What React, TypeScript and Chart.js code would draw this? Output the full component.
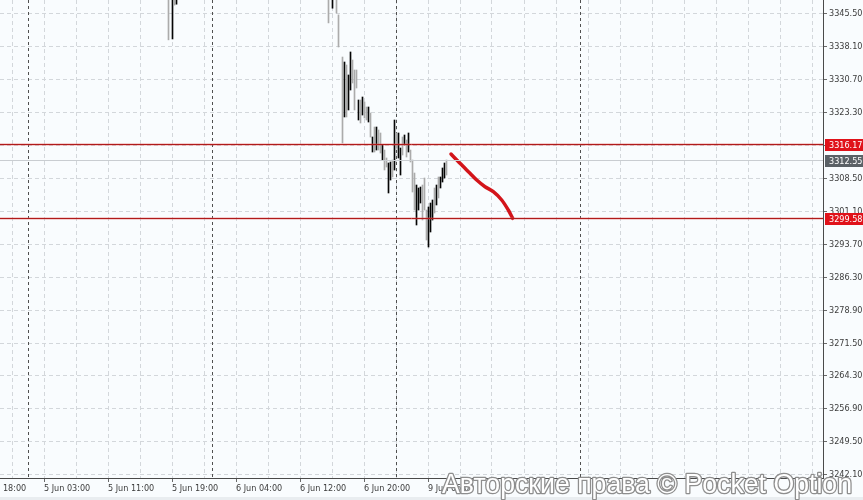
import React, { useEffect, useRef } from "react";
import { Chart, registerables } from "chart.js";

Chart.register(...registerables);

// ---------------- data ----------------
// bar slot index (15-minute bars), high, low and direction (1 = black bar, 0 = grey bar)
const barSlots = [
  84, 86, 87, 88,
  164, 166, 168, 169,
  171, 172, 173, 174, 175, 176, 177, 178, 179, 180,
  181, 182, 183, 184, 185, 186, 187, 188, 189, 190,
  191, 192, 193, 194, 195, 196, 197, 198, 199, 200,
  201, 202, 203, 204, 205, 206, 207, 208, 209, 210,
  211, 212, 213, 214, 215, 216, 217, 218, 219, 220,
  221, 222, 223,
];
const barHigh = [
  3350, 3350, 3350, 3350,
  3350, 3350, 3350, 3345.3,
  3335.85, 3334.73, 3334.06, 3331.82, 3336.98, 3335.18, 3332.94, 3332.94, 3326.21, 3326.21,
  3326.88, 3325.76, 3324.64, 3324.64, 3323.29, 3317.91, 3320.15, 3320.15, 3319.48, 3318.81,
  3316.11, 3314.99, 3313.2, 3312.08, 3312.3, 3312.75, 3321.72, 3318.81, 3318.81, 3315.44,
  3317.91, 3318.36, 3317.24, 3318.81, 3314.99, 3312.75, 3309.83, 3307.14, 3306.47, 3306.69,
  3307.14, 3308.71, 3301.53, 3302.21, 3303.1, 3303.78, 3306.47, 3307.14, 3308.94, 3308.94,
  3310.96, 3312.08, 3312.75,
];
const barLow = [
  3339.7, 3339.9, 3347.5, 3347.7,
  3343.5, 3346.8, 3345.7, 3338.1,
  3316.56, 3322.4, 3322.4, 3323.97, 3328.45, 3330.02, 3323.97, 3328.9, 3321.72, 3321.05,
  3322.84, 3322.17, 3321.72, 3321.27, 3317.91, 3314.54, 3314.54, 3314.99, 3314.99, 3314.32,
  3312.75, 3310.51, 3311.18, 3305.35, 3308.26, 3308.94, 3310.5, 3315.44, 3313.2, 3309.38,
  3313.87, 3316.11, 3313.42, 3314.54, 3312.3, 3305.57, 3301.53, 3298.17, 3301.53, 3303.1,
  3299.29, 3301.53, 3294.8, 3293.23, 3296.6, 3299.29, 3300.86, 3302.66, 3304.23, 3306.47,
  3307.81, 3308.71, 3309.38,
];
const barBearish = [
  0, 1, 0, 1,
  0, 1, 0, 0,
  0, 1, 0, 1, 1, 0, 0, 0, 1, 0,
  1, 0, 0, 1, 0, 1, 0, 1, 0, 0,
  1, 0, 0, 1, 1, 0, 1, 0, 1, 1,
  0, 1, 0, 1, 0, 0, 0, 1, 1, 1,
  0, 0, 0, 1, 1, 1, 0, 1, 0, 1,
  1, 1, 0,
];

const yTickValues = [
  3345.5, 3338.1, 3330.7, 3323.3, 3315.9, 3308.5, 3301.1, 3293.7,
  3286.3, 3278.9, 3271.5, 3264.3, 3256.9, 3249.5, 3242.1,
];
const yTickLabels = [
  "3345.50", "3338.10", "3330.70", "3323.30", "3315.90", "3308.50", "3301.10", "3293.70",
  "3286.30", "3278.90", "3271.50", "3264.30", "3256.90", "3249.50", "3242.10",
];

const xTimeLabels = [
  "4 Jun 18:00", "5 Jun 03:00", "5 Jun 11:00", "5 Jun 19:00",
  "6 Jun 04:00", "6 Jun 12:00", "6 Jun 20:00", "9 Jun 06:00",
];
const xLabelSlots = [-10.25, 21.75, 53.75, 85.75, 117.75, 149.75, 181.75, 213.75];
const xGridSlots = [
  5.75, 21.75, 37.75, 53.75, 69.75, 85.75, 101.75, 117.75, 133.75, 149.75,
  165.75, 181.75, 197.75, 213.75, 229.75, 245.75, 261.75, 277.75, 293.75, 309.75,
  325.75, 341.75, 357.75, 373.75, 389.75, 405.75,
];
const daySeparatorSlots = [14, 106, 198, 290];

const levelPrices = [3316.17, 3299.58];
const levelLabels = ["3316.17", "3299.58"];
const bidPrice = 3312.55;
const bidLabel = "3312.55";

const sketchSlots = [225.25, 229.75, 234.75, 238.1, 242.25, 246.4, 250.6, 253.9, 256.1];
const sketchPrices = [3314.1, 3312.01, 3309.77, 3308.26, 3306.76, 3305.64, 3303.78, 3301.53, 3299.67];

const watermarkText = "Авторские права © Pocket Option";

// ---------------- styling ----------------
const FONT_FAMILY = '"DejaVu Sans Condensed", "DejaVu Sans", sans-serif';
const FONT_SIZE = 9;
const X_MIN = -0.25;
const X_MAX = 411.25;
const Y_MIN = 3241.42;
const Y_MAX = 3348.64;

function labelForSlot(v: number): string {
  const i = xLabelSlots.indexOf(v);
  return i >= 0 ? xTimeLabels[i] : "";
}

const decorations = {
  id: "decorations",
  beforeDraw(chart: any) {
    const { ctx, width, height } = chart;
    ctx.save();
    ctx.fillStyle = "#f9fcfe";
    ctx.fillRect(0, 0, width, height);
    ctx.restore();
  },
  beforeDatasetsDraw(chart: any) {
    const { ctx, chartArea } = chart;
    const x = chart.scales.x;
    ctx.save();
    ctx.strokeStyle = "#505050";
    ctx.lineWidth = 1;
    ctx.setLineDash([3, 3]);
    daySeparatorSlots.forEach((s) => {
      const px = Math.floor(x.getPixelForValue(s)) + 0.5;
      ctx.beginPath();
      ctx.moveTo(px, chartArea.top);
      ctx.lineTo(px, chartArea.bottom);
      ctx.stroke();
    });
    ctx.restore();
  },
  afterDatasetsDraw(chart: any) {
    const { ctx, chartArea } = chart;
    const y = chart.scales.y;
    ctx.save();
    const by = Math.floor(y.getPixelForValue(bidPrice)) + 0.5;
    ctx.strokeStyle = "#c9cdd1";
    ctx.lineWidth = 1;
    ctx.beginPath();
    ctx.moveTo(chartArea.left, by);
    ctx.lineTo(chartArea.right, by);
    ctx.stroke();
    levelPrices.forEach((p) => {
      const py = Math.floor(y.getPixelForValue(p)) + 0.5;
      ctx.strokeStyle = "rgba(225,90,90,0.28)";
      ctx.lineWidth = 3;
      ctx.beginPath();
      ctx.moveTo(chartArea.left, py);
      ctx.lineTo(chartArea.right, py);
      ctx.stroke();
      ctx.strokeStyle = "#b01a1a";
      ctx.lineWidth = 1;
      ctx.beginPath();
      ctx.moveTo(chartArea.left, py);
      ctx.lineTo(chartArea.right, py);
      ctx.stroke();
    });
    ctx.restore();
  },
  afterDraw(chart: any) {
    const { ctx, chartArea, width, height } = chart;
    const y = chart.scales.y;
    ctx.save();
    ctx.font = `${FONT_SIZE}px ${FONT_FAMILY}`;
    ctx.textBaseline = "middle";
    ctx.textAlign = "left";
    const drawBox = (price: number, text: string, bg: string) => {
      const py = y.getPixelForValue(price);
      ctx.fillStyle = bg;
      ctx.fillRect(chartArea.right + 2, Math.round(py) - 6, width - chartArea.right - 2, 12);
      ctx.fillStyle = "#ffffff";
      ctx.fillText(text, chartArea.right + 6, Math.round(py) + 0.5);
    };
    drawBox(bidPrice, bidLabel, "#5b6166");
    levelPrices.forEach((p, i) => drawBox(p, levelLabels[i], "#e0121a"));

    ctx.fillStyle = "#e9edf0";
    ctx.fillRect(0, height - 3, width, 3);

    ctx.font = `27px "Liberation Sans", Arial, sans-serif`;
    ctx.textBaseline = "alphabetic";
    const w = ctx.measureText(watermarkText).width;
    const sx = 410 / w;
    ctx.translate(442, 493);
    ctx.scale(sx, 1);
    ctx.lineJoin = "round";
    ctx.strokeStyle = "#8e8e8e";
    ctx.lineWidth = 2.6;
    ctx.strokeText(watermarkText, 0, 0);
    ctx.fillStyle = "#ffffff";
    ctx.fillText(watermarkText, 0, 0);
    ctx.restore();
  },
};

export default function App() {
  const canvasRef = useRef<HTMLCanvasElement | null>(null);

  useEffect(() => {
    const canvas = canvasRef.current;
    if (!canvas) return;

    const barData = barSlots.map((s, i) => ({ x: s, y: [barLow[i], barHigh[i]] }));
    const barColors = barBearish.map((b) => (b ? "#050505" : "#ababab"));
    const sketchData = sketchSlots.map((s, i) => ({ x: s, y: sketchPrices[i] }));

    const chart = new Chart(canvas, {
      type: "bar",
      data: {
        datasets: [
          {
            type: "bar",
            data: barData as any,
            backgroundColor: barColors,
            borderWidth: 0,
            barThickness: 1,
            grouped: false,
            order: 2,
          } as any,
          {
            type: "line",
            data: sketchData as any,
            borderColor: "#d3141a",
            borderWidth: 3.5,
            pointRadius: 0,
            tension: 0.3,
            borderCapStyle: "round",
            borderJoinStyle: "round",
            order: 1,
          } as any,
        ],
      },
      options: {
        animation: false,
        responsive: false,
        events: [],
        layout: { padding: 0 },
        plugins: {
          legend: { display: false },
          tooltip: { enabled: false },
        },
        scales: {
          x: {
            type: "linear",
            offset: false,
            min: X_MIN,
            max: X_MAX,
            afterBuildTicks: (s: any) => {
              s.ticks = [xLabelSlots[0], ...xGridSlots].map((v) => ({ value: v }));
            },
            afterFit: (s: any) => {
              s.height = 22;
              s.paddingLeft = 0;
              s.paddingRight = 0;
            },
            ticks: {
              autoSkip: false,
              maxRotation: 0,
              minRotation: 0,
              align: "start",
              padding: 1,
              color: "#3c3c3c",
              font: { family: FONT_FAMILY, size: FONT_SIZE },
              callback: (v: any) => labelForSlot(Number(v)),
            },
            grid: {
              offset: false,
              color: "#d3d7db",
              lineWidth: 1,
              drawTicks: true,
              tickLength: 4,
              tickWidth: 1,
              tickColor: (ctx: any) =>
                ctx.tick && labelForSlot(ctx.tick.value) ? "#6a6a6a" : "rgba(0,0,0,0)",
            },
            border: { display: true, color: "#4a4a4a", width: 1, dash: [4, 3] },
          } as any,
          y: {
            type: "linear",
            position: "right",
            min: Y_MIN,
            max: Y_MAX,
            afterBuildTicks: (s: any) => {
              s.ticks = yTickValues.map((v) => ({ value: v }));
            },
            afterFit: (s: any) => {
              s.width = 40;
              s.paddingTop = 0;
              s.paddingBottom = 0;
            },
            ticks: {
              padding: 2,
              color: "#3c3c3c",
              font: { family: FONT_FAMILY, size: FONT_SIZE },
              callback: (v: any) => {
                const i = yTickValues.indexOf(Number(v));
                return i >= 0 ? yTickLabels[i] : "";
              },
            },
            grid: {
              color: "#d3d7db",
              lineWidth: 1,
              drawTicks: true,
              tickLength: 4,
              tickWidth: 1,
              tickColor: "#6a6a6a",
            },
            border: { display: true, color: "#4a4a4a", width: 1, dash: [4, 3] },
          } as any,
        },
      },
      plugins: [decorations as any],
    });

    return () => chart.destroy();
  }, []);

  return (
    <div style={{ position: "absolute", left: 0, top: 0, width: 863, height: 500 }}>
      <canvas ref={canvasRef} width={863} height={500} style={{ display: "block" }} />
    </div>
  );
}
